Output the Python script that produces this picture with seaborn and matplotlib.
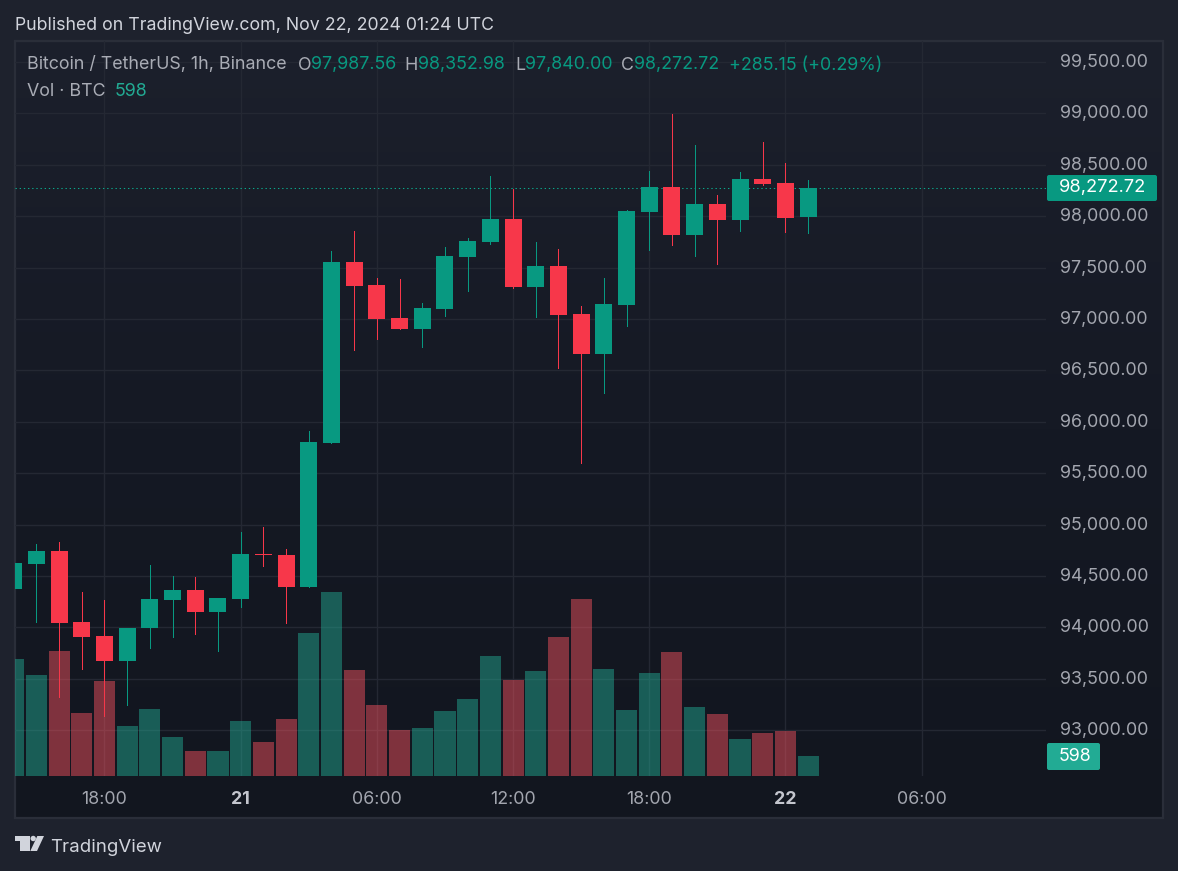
import pandas as pd
import numpy as np
import matplotlib
matplotlib.use("Agg")
import matplotlib.pyplot as plt
import seaborn as sns
from matplotlib.colors import LinearSegmentedColormap
from matplotlib.patches import Rectangle, Polygon, Circle, FancyBboxPatch
from matplotlib.transforms import ScaledTranslation

# -------------------------------------------------------
# data (BTC/USDT 1h candles)
# -------------------------------------------------------

opens = [94374, 94620, 94743, 94053, 93917, 93674, 93995, 94267, 94364, 94150,
         94277, 94714, 94704, 94393, 95794, 97554, 97330, 97009, 96902, 97097,
         97602, 97748, 97972, 97311, 97515, 97048, 96659, 97136, 98040, 98283,
         97816, 98118, 97962, 98361, 98322, 97987.56]
closes = [94627, 94743, 94043, 93907, 93674, 93995, 94277, 94364, 94150, 94286,
          94714, 94707, 94393, 95803, 97554, 97320, 97000, 96902, 97106, 97612,
          97758, 97972, 97311, 97515, 97038, 96659, 97145, 98050, 98283, 97816,
          98118, 97962, 98361, 98312, 97982, 98272.72]
highs = [94627, 94811, 94831, 94345, 94267, 93995, 94607, 94500, 94490, 94286,
         94928, 94977, 94763, 95910, 97661, 97855, 97398, 97389, 97155, 97700,
         97787, 98390, 98262, 97748, 97680, 97126, 97398, 98060, 98439, 98990,
         98692, 98205, 98429, 98721, 98517, 98352.98]
lows = [94374, 94056, 93326, 93596, 93139, 93246, 93800, 93907, 93936, 93771,
        94199, 94597, 94043, 94393, 95794, 96698, 96805, 96902, 96727, 97029,
        97272, 97729, 97301, 97019, 96523, 95599, 96280, 96931, 97671, 97719,
        97612, 97534, 97855, 98303, 97846, 97840]
volumes = [3498, 3020, 3738, 1884, 2841, 1495, 2003, 1166, 748, 748,
           1645, 1017, 1704, 4276, 5502, 3169, 2123, 1375, 1435, 1944,
           2302, 3588, 2870, 3140, 4156, 5292, 3199, 1973, 3080, 3708,
           2063, 1854, 1106, 1286, 1346, 598]

time_ticks = [4, 10, 16, 22, 28, 34, 40]
time_labels = ["18:00", "21", "06:00", "12:00", "18:00", "22", "06:00"]
price_ticks = [93000, 93500, 94000, 94500, 95000, 95500, 96000,
               96500, 97000, 97500, 98000, 98500, 99000, 99500]

last_price = 98272.72
last_volume = 598

# -------------------------------------------------------
# colours and layout
# -------------------------------------------------------

FRAME_BG = "#1e222d"
BORDER = "#2a2e39"
GRID = "#242833"
GREEN = "#089981"
RED = "#f7374a"
VOL_GREEN = "#22ab94"
VOL_RED = "#f7525f"
TICK = "#a3a6af"
LEGEND = "#a9acb5"
TITLE = "#d1d4dc"

W, H = 1178, 871
FONT = 12.85

sns.set_theme(style="dark", rc={"axes.grid": False})
plt.rcParams["font.family"] = ["Inter", "DejaVu Sans"]

df = pd.DataFrame({"o": opens, "c": closes, "h": highs, "l": lows, "vol": volumes})
df["idx"] = df.index
df["up"] = df["c"] >= df["o"]
df["dir"] = np.where(df["up"], "up", "down")
df["bottom"] = df[["o", "c"]].min(axis=1)
df["height"] = (df["c"] - df["o"]).abs()
df["color"] = np.where(df["up"], GREEN, RED)


def px_rect(x0, y0, x1, y1):
    # figure axes rectangle from pixel edges, y counted from the top
    return [x0 / W, 1 - y1 / H, (x1 - x0) / W, (y1 - y0) / H]


fig = plt.figure(figsize=(W / 100, H / 100), dpi=100, facecolor=FRAME_BG)

# panel background, slightly lighter towards the top
chrome = fig.add_axes([0, 0, 1, 1], zorder=-1)
chrome.set_axis_off()
panel_cmap = LinearSegmentedColormap.from_list("panel", ["#1c202c", "#151924", "#12161f"])
chrome.imshow(np.linspace(0, 1, 256).reshape(-1, 1), cmap=panel_cmap, aspect="auto",
              extent=(15, 1163, 818, 41))
chrome.add_patch(Rectangle((15, 41), 1148, 777, fill=False, ec=BORDER, lw=1.6))
chrome.set_xlim(0, W)
chrome.set_ylim(H, 0)

# tradingview logo
chrome.add_patch(Polygon([(15, 836), (29.5, 836), (29.5, 851), (20.3, 851), (20.3, 841), (15, 841)],
                         fc=TITLE, ec="none"))
chrome.add_patch(Circle((33.2, 838.5), 2.7, fc=TITLE, ec="none"))
chrome.add_patch(Polygon([(44, 836), (37, 851), (30.3, 851), (37.3, 836)], fc=TITLE, ec="none"))

# -------------------------------------------------------
# three stacked layers: grid and ticks, volume, candles
# -------------------------------------------------------

rect = px_rect(15, 41, 1046, 776)
xlim = (0.057, 45.48)
ylim = (92556, 99703)

price_ax = fig.add_axes(rect, zorder=1)
price_ax.patch.set_visible(False)
for spine in price_ax.spines.values():
    spine.set_visible(False)
price_ax.set_xlim(*xlim)
price_ax.set_ylim(*ylim)
price_ax.yaxis.tick_right()
price_ax.set_yticks(price_ticks)
price_ax.set_yticklabels([f"{p:,.2f}" for p in price_ticks])
price_ax.set_xticks(time_ticks)
price_ax.set_xticklabels(time_labels)
price_ax.tick_params(axis="y", length=0, pad=10, labelsize=FONT, labelcolor=TICK)
price_ax.tick_params(axis="x", length=0, pad=11, labelsize=FONT, labelcolor=TICK)
up_shift = ScaledTranslation(0, 1.5 / 100, fig.dpi_scale_trans)
for lab in price_ax.get_yticklabels():
    lab.set_transform(lab.get_transform() + up_shift)
for lab in price_ax.get_xticklabels():
    if lab.get_text() in ("21", "22"):
        lab.set_fontweight("bold")
        lab.set_color("#c4c6ce")
price_ax.grid(True, color=GRID, lw=1)

vol_ax = fig.add_axes(rect, zorder=2, sharex=price_ax)
vol_ax.patch.set_visible(False)
sns.barplot(data=df, x="idx", y="vol", hue="dir", palette={"up": VOL_GREEN, "down": VOL_RED},
            native_scale=True, dodge=False, width=0.93, alpha=0.48, legend=False, ax=vol_ax,
            linewidth=0, saturation=1)
vol_ax.set_ylim(0, 21977)
vol_ax.set_axis_off()

candle_ax = fig.add_axes(rect, zorder=3, sharex=price_ax, sharey=price_ax)
candle_ax.patch.set_visible(False)
candle_ax.axhline(last_price, color="#0aa88e", lw=0.75, ls=(0, (1.3, 2.7)), zorder=1)
# aliased so every wick is one full pixel in its own colour
candle_ax.vlines(df["idx"], df["l"], df["h"], colors=df["color"], lw=0.72,
                 antialiaseds=False, zorder=2)
candle_ax.bar(df["idx"], df["height"], bottom=df["bottom"], width=0.75, color=df["color"],
              linewidth=0, zorder=3)
candle_ax.set_axis_off()
candle_ax.set_xlim(*xlim)

# -------------------------------------------------------
# labels on the price scale and text
# -------------------------------------------------------

over = fig.add_axes([0, 0, 1, 1], zorder=4)
over.set_axis_off()
over.set_xlim(0, W)
over.set_ylim(H, 0)
over.add_patch(FancyBboxPatch((1047, 175), 110, 26, boxstyle="round,pad=0,rounding_size=2",
                              fc=GREEN, ec="none"))
over.add_patch(FancyBboxPatch((1047, 743), 53, 27, boxstyle="round,pad=0,rounding_size=2",
                              fc=VOL_GREEN, ec="none"))


def put_text(x, y, s, color, size=FONT, **kw):
    over.text(x, y, s, color=color, fontsize=size, va="center", **kw)


put_text(1059, 187.5, f"{last_price:,.2f}", "white", size=13.2)
put_text(1059, 756.5, str(last_volume), "white")

put_text(15, 25, "Published on TradingView.com, Nov 22, 2024 01:24 UTC", TITLE, size=12.78)
put_text(27, 65, "Bitcoin / TetherUS, 1h, Binance", LEGEND)
for x, s in [(298, "O"), (404, "H"), (515, "L"), (621, "C")]:
    put_text(x, 65, s, LEGEND)
for x, s in [(311, "97,987.56"), (418, "98,352.98"), (525, "97,840.00"),
             (634, "98,272.72"), (729, "+285.15 (+0.29%)")]:
    put_text(x, 65, s, GREEN)
put_text(27, 91, "Vol · BTC", LEGEND)
put_text(115, 91, "598", VOL_GREEN)
put_text(50, 847, "TradingView", TITLE, size=13.45)

fig.savefig("out.png", dpi=100, facecolor=FRAME_BG)
